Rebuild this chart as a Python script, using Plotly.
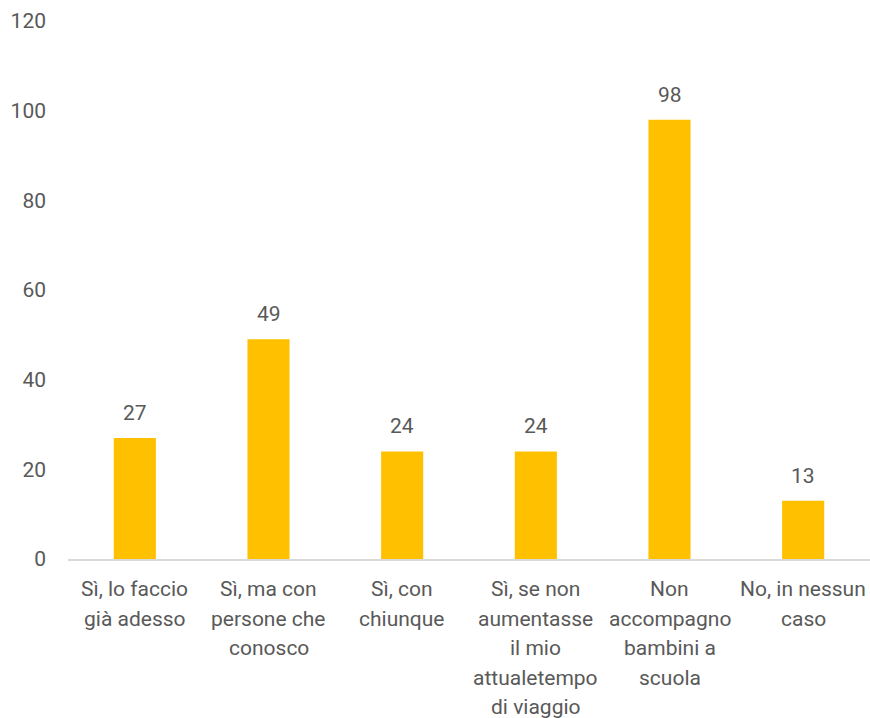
import plotly.graph_objects as go

categories = [
    "Sì, lo faccio<br>già adesso",
    "Sì, ma con<br>persone che<br>conosco",
    "Sì, con<br>chiunque",
    "Sì, se non<br>aumentasse<br>il mio<br>attualetempo<br>di viaggio",
    "Non<br>accompagno<br>bambini a<br>scuola",
    "No, in nessun<br>caso",
]
values = [27, 49, 24, 24, 98, 13]
y_ticks = [0, 20, 40, 60, 80, 100, 120]

FONT = "Roboto, sans-serif"
TXT = "#595959"
BAR = "#FFC000"
FS = 21

idx = list(range(len(categories)))

fig = go.Figure(
    go.Bar(x=idx, y=values, marker=dict(color=BAR, line=dict(width=0)), width=0.315)
)

annotations = []
for i, (c, v) in enumerate(zip(categories, values)):
    annotations.append(dict(x=i, y=v, xref="x", yref="y", text=str(v), showarrow=False,
                            yanchor="bottom", yshift=11,
                            font=dict(family=FONT, size=FS, color=TXT)))
    for j, line in enumerate(c.split("<br>")):
        annotations.append(dict(x=i, y=0, xref="x", yref="y", text=line, showarrow=False,
                                yanchor="middle", yshift=-30 - 29.5 * j,
                                font=dict(family=FONT, size=FS, color=TXT)))

fig.update_layout(
    width=870, height=718,
    margin=dict(l=68, r=0, t=21, b=159),
    paper_bgcolor="white", plot_bgcolor="white",
    showlegend=False,
    annotations=annotations,
    xaxis=dict(range=[-0.5, 5.5], showticklabels=False, showgrid=False, zeroline=False,
               showline=True, linecolor="#D9D9D9", linewidth=1.5, ticks=""),
    yaxis=dict(range=[0, 120], tickvals=y_ticks, showgrid=False, zeroline=False,
               showline=False, ticks="", ticklabelstandoff=21,
               tickfont=dict(family=FONT, size=FS, color=TXT)),
)

fig.write_html(
    "out.html",
    config={"displayModeBar": False},
    post_script="document.body.style.margin='0';document.body.style.overflow='hidden';",
)
